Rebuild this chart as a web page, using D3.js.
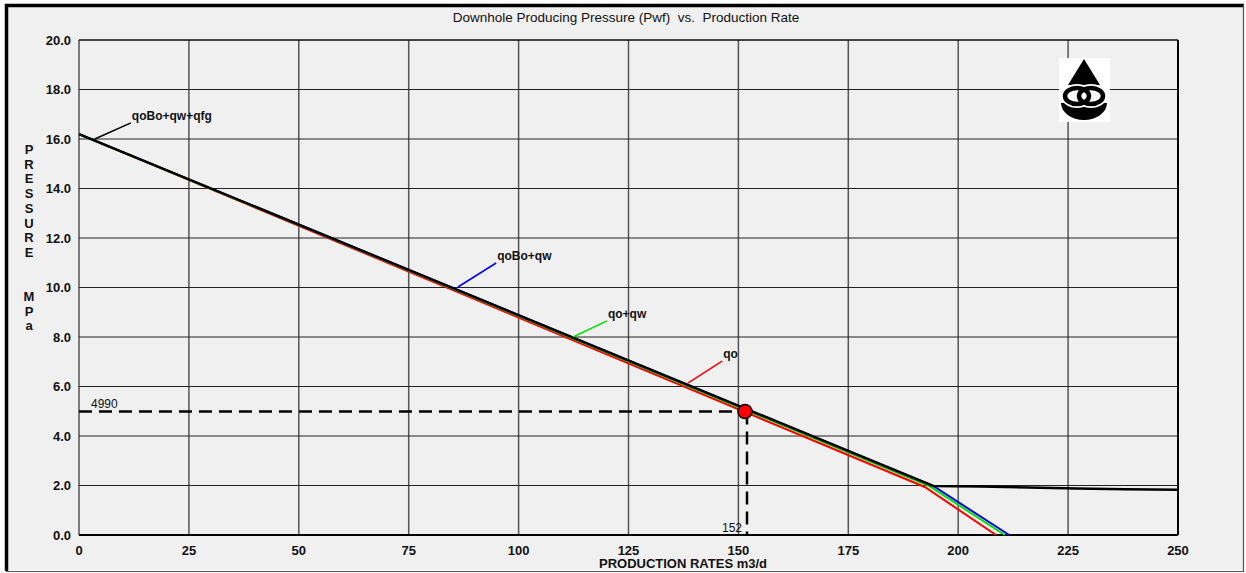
<!doctype html>
<meta charset="utf-8">
<title>Downhole Producing Pressure vs. Production Rate</title>
<style>
    html, body {
        margin: 0;
        background: #ffffff;
    }

    svg {
        display: block;
        font-family: "Liberation Sans", Arial, sans-serif;
    }

    .tick-label {
        font-size: 13px;
        font-weight: bold;
        fill: #111;
    }
</style>
<svg width=1246 height=573></svg>
<script src="https://d3js.org/d3.v7.min.js"></script>
<script>
    // tick labels
    var xTicks = [0, 25, 50, 75, 100, 125, 150, 175, 200, 225, 250];
    var yTicks = [0, 2, 4, 6, 8, 10, 12, 14, 16, 18, 20];

    // IPR curves, [rate m3/d, pressure MPa]
    var curveQo = [[0, 16.2], [192.4, 1.94], [208.6, 0]];
    var curveQoQw = [[0, 16.2], [193.3, 1.99], [210.6, 0]];
    var curveQoBoQw = [[0, 16.2], [194.3, 1.98], [211.6, 0]];
    var curveTotal = [[0, 16.2], [194.3, 1.98], [205, 1.96], [216, 1.92], [227, 1.88], [238, 1.85], [250, 1.83]];

    var seriesNames = ['qo', 'qoBo+qw', 'qo+qw', 'qoBo+qw+qfg'];
    var seriesColors = ['#ff0000', '#0000ff', '#00e000', '#000000'];

    // leader labels: start point on curve, end point at text
    var labelStart = [[138.5, 6.14], [86.2, 10.02], [112.4, 8.0], [3.6, 16.0]];
    var labelEnd = [[146.3, 7.03], [94.9, 10.99], [120.1, 8.65], [11.8, 16.65]];

    // operating point
    var opRate = 151.5;
    var opPressure = 4.99;
    var opRateLabel = '152';
    var opPressureLabel = '4990';

    var svg = d3.select('svg');
    var x = d3.scaleLinear().domain([0, 250]).range([79, 1178]);
    var y = d3.scaleLinear().domain([0, 20]).range([535, 40]);

    // window background and frame
    svg.append('rect')
        .attr('x', 5).attr('y', 4).attr('width', 1238).attr('height', 566)
        .attr('fill', '#f0f0f0');
    svg.append('path')
        .attr('d', 'M6.5,571 L6.5,5.5 L1244,5.5')
        .attr('fill', 'none').attr('stroke', '#000').attr('stroke-width', 3.5);
    svg.append('path')
        .attr('d', 'M6,571.5 L1243.5,571.5 L1243.5,5')
        .attr('fill', 'none').attr('stroke', '#555').attr('stroke-width', 1.2);

    // title
    svg.append('text')
        .attr('x', 626).attr('y', 22)
        .attr('text-anchor', 'middle')
        .style('font-size', '13.5px')
        .style('white-space', 'pre')
        .attr('fill', '#111')
        .text('Downhole Producing Pressure (Pwf)  vs.  Production Rate');

    // grid
    svg.append('g').selectAll('line').data(xTicks).join('line')
        .attr('x1', function (d) { return x(d); })
        .attr('x2', function (d) { return x(d); })
        .attr('y1', y(20)).attr('y2', y(0))
        .attr('stroke', '#555').attr('stroke-width', 1.5);
    svg.append('g').selectAll('line').data(yTicks).join('line')
        .attr('x1', x(0)).attr('x2', x(250))
        .attr('y1', function (d) { return y(d); })
        .attr('y2', function (d) { return y(d); })
        .attr('stroke', '#222').attr('stroke-width', 1);

    // plot frame
    svg.append('line')
        .attr('x1', x(0)).attr('x2', x(250)).attr('y1', y(0)).attr('y2', y(0))
        .attr('stroke', '#000').attr('stroke-width', 2);
    svg.append('line')
        .attr('x1', x(250)).attr('x2', x(250)).attr('y1', y(20)).attr('y2', y(0))
        .attr('stroke', '#000').attr('stroke-width', 2);
    svg.append('line')
        .attr('x1', x(0)).attr('x2', x(250)).attr('y1', y(20)).attr('y2', y(20))
        .attr('stroke', '#000').attr('stroke-width', 1);

    // tick labels
    svg.append('g').selectAll('text').data(yTicks).join('text')
        .attr('class', 'tick-label')
        .attr('x', 71)
        .attr('y', function (d) { return y(d) + 4.5; })
        .attr('text-anchor', 'end')
        .text(d3.format('.1f'));
    svg.append('g').selectAll('text').data(xTicks).join('text')
        .attr('class', 'tick-label')
        .attr('x', function (d) { return x(d); })
        .attr('y', 555)
        .attr('text-anchor', 'middle')
        .text(function (d) { return d; });

    // axis titles
    svg.append('text')
        .attr('x', 683).attr('y', 568)
        .attr('text-anchor', 'middle')
        .attr('class', 'tick-label')
        .text('PRODUCTION RATES m3/d');

    var yTitle = ['P', 'R', 'E', 'S', 'S', 'U', 'R', 'E', '', '', 'M', 'P', 'a'];
    svg.append('g').selectAll('text').data(yTitle).join('text')
        .attr('class', 'tick-label')
        .attr('x', 29)
        .attr('y', function (d, i) { return 154 + i * 14.7; })
        .attr('text-anchor', 'middle')
        .text(function (d) { return d; });

    // dashed operating lines
    svg.append('line')
        .attr('x1', x(0)).attr('x2', x(opRate))
        .attr('y1', y(opPressure)).attr('y2', y(opPressure))
        .attr('stroke', '#000').attr('stroke-width', 2.5)
        .attr('stroke-dasharray', '13,7');
    svg.append('line')
        .attr('x1', x(opRate) + 2).attr('x2', x(opRate) + 2)
        .attr('y1', y(opPressure)).attr('y2', y(0))
        .attr('stroke', '#000').attr('stroke-width', 2.5)
        .attr('stroke-dasharray', '13,7');
    svg.append('text')
        .attr('x', x(0) + 12).attr('y', y(opPressure) - 3)
        .style('font-size', '12px').attr('fill', '#111')
        .text(opPressureLabel);
    svg.append('text')
        .attr('x', x(opRate) - 3).attr('y', y(0) - 3)
        .attr('text-anchor', 'end')
        .style('font-size', '12px').attr('fill', '#111')
        .text(opRateLabel);

    // curves
    var line = d3.line()
        .x(function (d) { return x(d[0]); })
        .y(function (d) { return y(d[1]); });
    var curves = [curveQo, curveQoBoQw, curveQoQw, curveTotal];

    svg.append('g').selectAll('path').data(curves).join('path')
        .attr('d', line)
        .attr('fill', 'none')
        .attr('stroke', function (d, i) { return seriesColors[i]; })
        .attr('stroke-width', function (d, i) { return i === 3 ? 2.5 : 2; });

    // leader lines and labels
    svg.append('g').selectAll('line').data(seriesNames).join('line')
        .attr('x1', function (d, i) { return x(labelStart[i][0]); })
        .attr('y1', function (d, i) { return y(labelStart[i][1]); })
        .attr('x2', function (d, i) { return x(labelEnd[i][0]); })
        .attr('y2', function (d, i) { return y(labelEnd[i][1]); })
        .attr('stroke', function (d, i) { return seriesColors[i]; })
        .attr('stroke-width', 1.5);
    svg.append('g').selectAll('text').data(seriesNames).join('text')
        .attr('x', function (d, i) { return x(labelEnd[i][0]) + 1; })
        .attr('y', function (d, i) { return y(labelEnd[i][1]) - 3; })
        .style('font-size', '12px')
        .style('font-weight', 'bold')
        .attr('fill', '#111')
        .text(function (d) { return d; });

    // operating point marker
    svg.append('circle')
        .attr('cx', x(opRate)).attr('cy', y(opPressure))
        .attr('r', 7)
        .attr('fill', '#ff0000')
        .attr('stroke', '#000').attr('stroke-width', 1.5);

    // logo
    var logo = svg.append('g').attr('transform', 'translate(1084,90)');
    logo.append('rect')
        .attr('x', -25).attr('y', -32).attr('width', 51).attr('height', 64)
        .attr('fill', '#fff');
    logo.append('path')
        .attr('d', 'M0,-31 L-16,-5 L16,-5 Z')
        .attr('fill', '#000');
    logo.append('path')
        .attr('d', 'M-23,13 A23,17 0 0 0 23,13 Z')
        .attr('fill', '#000');
    [-7, 7].forEach(function (cx) {
        logo.append('ellipse')
            .attr('cx', cx).attr('cy', 6).attr('rx', 12).attr('ry', 8)
            .attr('fill', 'none')
            .attr('stroke', '#fff').attr('stroke-width', 8);
    });
    [-7, 7].forEach(function (cx) {
        logo.append('ellipse')
            .attr('cx', cx).attr('cy', 6).attr('rx', 12).attr('ry', 8)
            .attr('fill', 'none')
            .attr('stroke', '#000').attr('stroke-width', 4.5);
    });
</script>
